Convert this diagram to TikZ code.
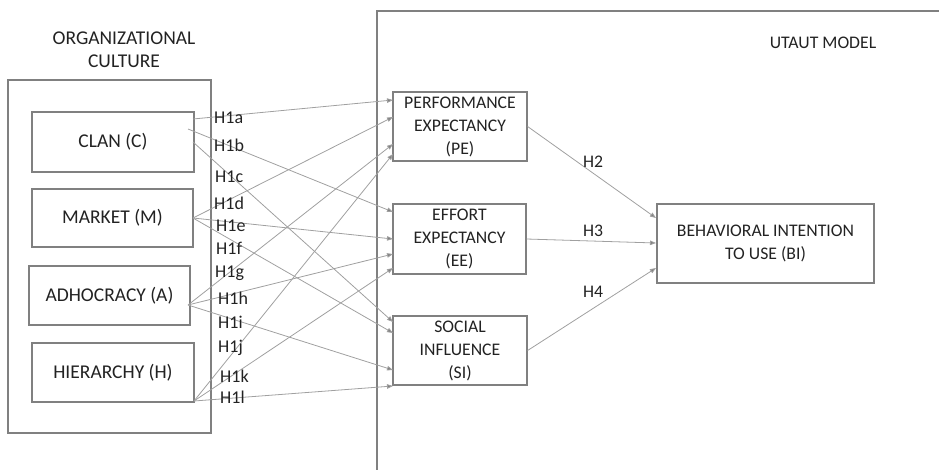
\documentclass[tikz,border=0pt]{standalone}
\usepackage{fontspec}
\setmainfont{Carlito}
\usetikzlibrary{arrows.meta}
\definecolor{boxc}{HTML}{808080}
\definecolor{arrc}{HTML}{A0A0A0}
\definecolor{txtc}{HTML}{222222}
\begin{document}
\begin{tikzpicture}[x=1pt,y=-1pt,
  every node/.style={font=\fontsize{19.5}{23}\selectfont, text=txtc},
  rfont/.style={font=\fontsize{17.7}{23}\selectfont},
  fbox/.style={draw=boxc, line width=1.2pt, inner sep=0pt, align=center},
  hyp/.style={draw=arrc, line width=0.8pt, -{Triangle[length=6pt,width=4.5pt,fill=boxc]}},
  hlab/.style={anchor=west, inner sep=0pt, font=\fontsize{18}{22}\selectfont}]
\useasboundingbox (0,0) rectangle (939,469);
% outer frames
\draw[boxc, line width=1.2pt] (8,80) rectangle (211,433);
\draw[boxc, line width=1.2pt] (377,475) -- (377,11) -- (945,11);
\node[align=center] (oc) at (124,50) {ORGANIZATIONAL\\CULTURE};
\node[rfont] (um) at (823,43) {UTAUT MODEL};
% boxes
\node[fbox, minimum width=162pt, minimum height=60pt] (clan) at (113,142) {CLAN (C)};
\node[fbox, minimum width=161pt, minimum height=58pt] (mkt) at (112.5,218) {MARKET (M)};
\node[fbox, minimum width=161pt, minimum height=59pt] (adh) at (109.5,295.5) {ADHOCRACY (A)};
\node[fbox, minimum width=162pt, minimum height=59pt] (hie) at (113,372.5) {HIERARCHY (H)};
\node[fbox, rfont, minimum width=134pt, minimum height=69pt] (pe) at (460,126.5) {PERFORMANCE\\EXPECTANCY\\(PE)};
\node[fbox, rfont, minimum width=133pt, minimum height=70pt] (ee) at (459.5,239) {EFFORT\\EXPECTANCY\\(EE)};
\node[fbox, rfont, minimum width=134pt, minimum height=69pt] (si) at (460,350.5) {SOCIAL\\INFLUENCE\\(SI)};
\node[fbox, rfont, minimum width=217pt, minimum height=79pt] (bi) at (765.5,243.5) {BEHAVIORAL INTENTION\\TO USE (BI)};
% start points
\coordinate (ca) at (193,119);
\coordinate (cb) at (188,129);
\coordinate (cc) at (193,142);
\coordinate (ms) at (193,218);
\coordinate (as) at (188,305);
\coordinate (hs) at (194,401);
% end points
\coordinate (pe1) at (393,100);
\coordinate (pe2) at (393,117);
\coordinate (pe3) at (393,144);
\coordinate (pe4) at (393,154);
\coordinate (ee1) at (393,212);
\coordinate (ee2) at (393,239);
\coordinate (ee3) at (393,254);
\coordinate (ee4) at (393,268);
\coordinate (si1) at (393,322);
\coordinate (si2) at (393,333);
\coordinate (si3) at (393,370);
\coordinate (si4) at (393,386);
\coordinate (bi1) at (656,218);
\coordinate (bi2) at (656,243);
\coordinate (bi3) at (656,268);
% connectors
\draw[hyp] (ca) -- (pe1);
\draw[hyp] (cb) -- (ee1);
\draw[hyp] (cc) -- (si1);
\draw[hyp] (ms) -- (pe2);
\draw[hyp] (ms) -- (ee2);
\draw[hyp] (ms) -- (si2);
\draw[hyp] (as) -- (pe3);
\draw[hyp] (as) -- (ee3);
\draw[hyp] (as) -- (si3);
\draw[hyp] (hs) -- (pe4);
\draw[hyp] (hs) -- (ee4);
\draw[hyp] (hs) -- (si4);
\draw[hyp] (pe.east) -- (bi1);
\draw[hyp] (ee.east) -- (bi2);
\draw[hyp] (si.east) -- (bi3);
% labels
\node[hlab] (l1a) at (214,118) {H1a};
\node[hlab] (l1b) at (214,145) {H1b};
\node[hlab] (l1c) at (215,177) {H1c};
\node[hlab] (l1d) at (214,203) {H1d};
\node[hlab] (l1e) at (216,226) {H1e};
\node[hlab] (l1f) at (216,248) {H1f};
\node[hlab] (l1g) at (215,273) {H1g};
\node[hlab] (l1h) at (218,298) {H1h};
\node[hlab] (l1i) at (218,322) {H1i};
\node[hlab] (l1j) at (218,348) {H1j};
\node[hlab] (l1k) at (220,376) {H1k};
\node[hlab] (l1l) at (220,397) {H1l};
\node[rfont] (h2) at (593,162) {H2};
\node[rfont] (h3) at (593,231) {H3};
\node[rfont] (h4) at (593,292) {H4};
\end{tikzpicture}
\end{document}
